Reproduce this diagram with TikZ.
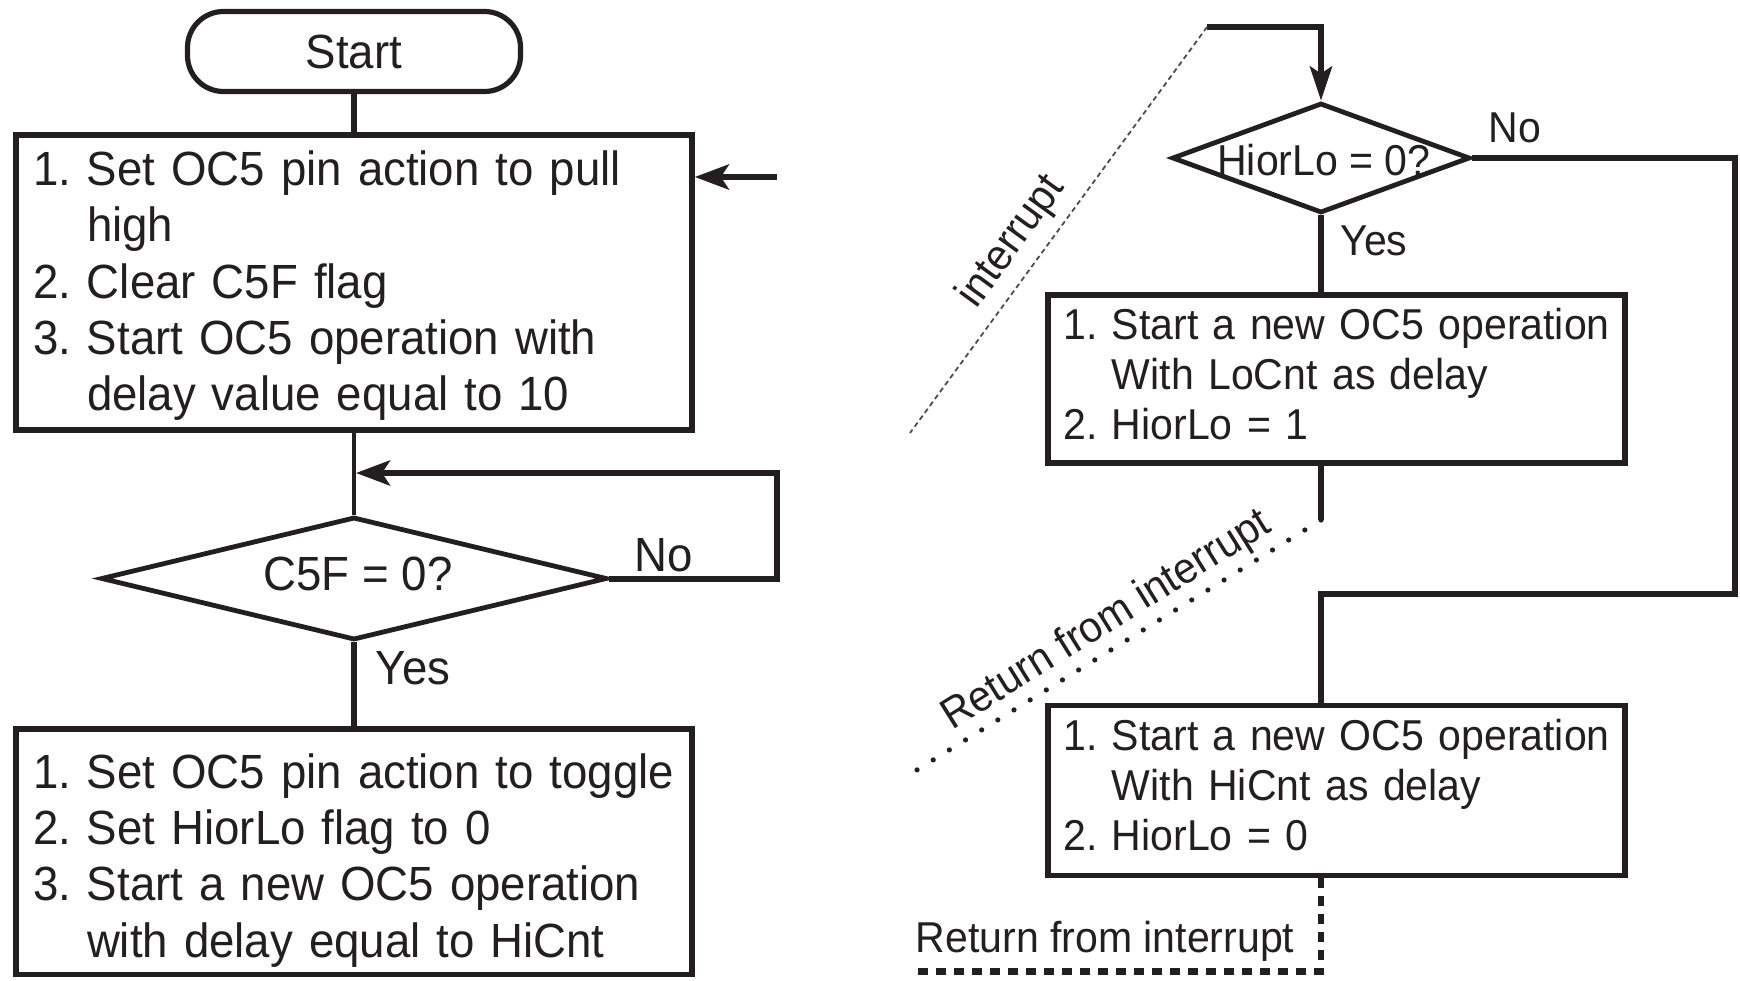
\documentclass[tikz,border=0pt]{standalone}
\usepackage{fontspec}
\setmainfont{Liberation Sans}[FakeStretch=0.95]
\usetikzlibrary{shapes.geometric,arrows.meta}
\definecolor{ink}{RGB}{35,31,32}
\newcommand\bigtext{\fontsize{24}{28.2}\selectfont}
\newcommand\smalltext{\fontsize{21.6}{25}\selectfont}

\begin{document}
\begin{tikzpicture}[x=0.5pt,y=-0.5pt,
  every node/.style={text=ink},
  terminal/.style={draw=ink, line width=2.6pt, rectangle, rounded corners=18pt,
    minimum width=166.5pt, minimum height=40pt, font=\bigtext},
  bigbox/.style={draw=ink, line width=2.8pt, rectangle, inner xsep=8.5pt, inner ysep=0pt,
    minimum width=338pt, text width=321pt, align=left, font=\bigtext},
  smallbox/.style={draw=ink, line width=2.8pt, rectangle, inner xsep=7.6pt, inner ysep=0pt,
    minimum width=288.5pt, text width=273.3pt, align=left, font=\smalltext},
  decision/.style={draw=ink, line width=2.4pt, diamond, inner sep=0pt},
  conn/.style={draw=ink, line width=3pt},
  thinconn/.style={draw=ink, line width=2.2pt},
  tipleft/.style={-{Stealth[length=17pt,width=12.5pt,inset=4pt]}},
  tipdown/.style={-{Stealth[length=17pt,width=11pt,inset=3.5pt]}},
  intline/.style={draw=gray!60!black, line width=0.9pt, dash pattern=on 2.5pt off 1.8pt},
  dotline/.style={draw=ink, line width=2.6pt, line cap=round, dash pattern=on 0pt off 9.5pt},
  dashline/.style={draw=ink, line width=3.2pt, dash pattern=on 5pt off 4pt},
]
\useasboundingbox (0,0) rectangle (1740,980);

% ---------- main program (left column) ----------
\node[terminal] (start) at (354,51.5) {Start};

\node[bigbox, minimum height=147.5pt] (b1) at (354,282.5) {\par\vspace*{3.4pt}\noindent
  \begin{tabular}{@{}l@{\hspace{8pt}}l@{}}
  1.& Set OC5 pin action to pull\\
    & high\\
  2.& Clear C5F flag\\
  3.& Start OC5 operation with\\
    & delay value equal to 10
  \end{tabular}};

\node[decision, minimum width=253pt, minimum height=61.5pt] (d1) at (354,578.5) {};
\node[font=\bigtext] (d1t) at (358,574) {C5F = 0?};
\node[font=\bigtext] (no1) at (664,555) {No};
\node[font=\bigtext] (yes1) at (413,668) {Yes};

\node[bigbox, minimum height=122.5pt] (b3) at (354,851.5) {\par\vspace*{9pt}\noindent
  \begin{tabular}{@{}l@{\hspace{8pt}}l@{}}
  1.& Set OC5 pin action to toggle\\
  2.& Set HiorLo flag to 0\\
  3.& Start a new OC5 operation\\
    & with delay equal to HiCnt
  \end{tabular}};

\draw[conn] (start.south) -- (b1.north);
\draw[thinconn] (b1.south) -- (d1.north);
\draw[conn] (d1.south) -- (b3.north);

% polling loop back above the decision
\coordinate (lr) at (777,473);
\coordinate (lt) at (356,473);
\draw[conn, tipleft] (d1.east) -| (lr) -- (lt);

% entry from the interrupt service routine
\coordinate (in1) at (777,177);
\draw[conn, tipleft] (in1) -- (in1 -| b1.east);

% ---------- interrupt service routine (right column) ----------
\node[decision, minimum width=149pt, minimum height=55pt] (d2) at (1321,158) {};
\node[font=\smalltext] (d2t) at (1324,160) {HiorLo = 0?};
\node[font=\smalltext] (no2) at (1515,128) {No};
\node[font=\smalltext] (yes2) at (1374,241) {Yes};

\node[smallbox, minimum height=84pt] (b4) at (1336.5,379) {\noindent
  \begin{tabular}{@{}l@{\hspace{7.2pt}}l@{}}
  1.& Start a new OC5 operation\\
    & With LoCnt as delay\\
  2.& HiorLo = 1
  \end{tabular}};

\node[smallbox, minimum height=85pt] (b5) at (1336.5,790.5) {\noindent
  \begin{tabular}{@{}l@{\hspace{7.2pt}}l@{}}
  1.& Start a new OC5 operation\\
    & With HiCnt as delay\\
  2.& HiorLo = 0
  \end{tabular}};

\coordinate (itop) at (1207,27);
\coordinate (ibot) at (910,433);
\draw[conn, tipdown] (itop) -| (d2.north);
\draw[intline] (itop) -- (ibot);
\node[font=\smalltext, rotate=54] (lint) at (1012,242) {interrupt};

\draw[conn] (d2.south) -- (d2.south |- b4.north);

\coordinate (nr) at (1734.5,594);
\draw[conn] (d2.east) -| (nr) -- (nr -| d2.center) -- (d2.center |- b5.north);

\coordinate (r1) at (1321,520);
\coordinate (r1e) at (912,773);
\draw[conn] (d2.center |- b4.south) -- (r1);
\draw[dotline] (r1) -- (r1e);
\node[font=\smalltext, rotate=32] (lret) at (1107,621) {Return from interrupt};

\coordinate (r2) at (1321,971.5);
\coordinate (r2e) at (912,971.5);
\draw[dashline] (d2.center |- b5.south) -- (r2) -- (r2e);
\node[font=\smalltext] (lret2) at (1105,941) {Return from interrupt};
\end{tikzpicture}
\end{document}
